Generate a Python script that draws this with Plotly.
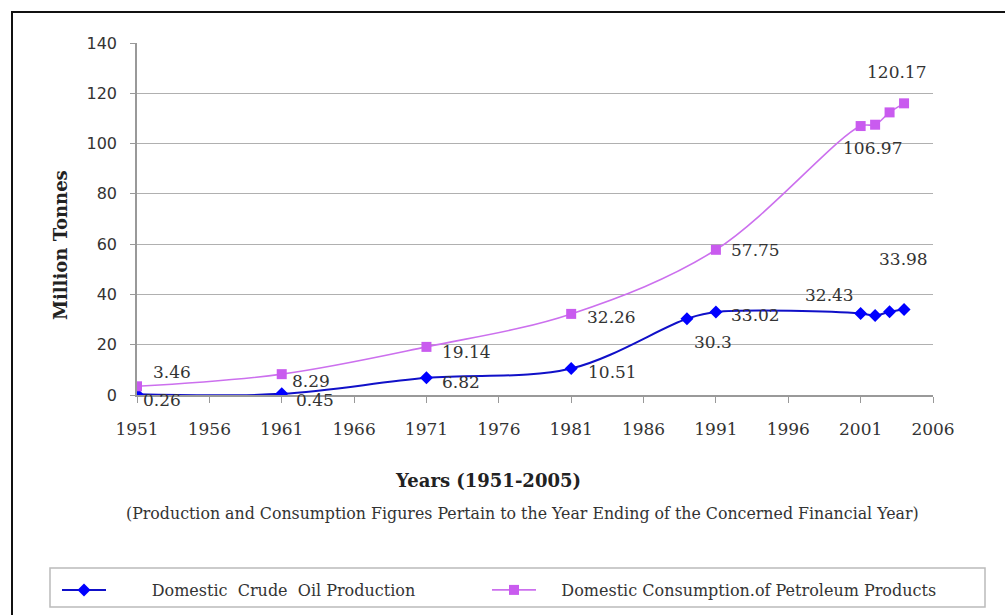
import plotly.graph_objects as go

# ---- data ----
prod_years = [1951, 1961, 1971, 1981, 1989, 1991, 2001, 2002, 2003, 2004]
prod_values = [0.26, 0.45, 6.82, 10.51, 30.3, 33.02, 32.43, 31.6, 33.1, 33.98]
cons_years = [1951, 1961, 1971, 1981, 1991, 2001, 2002, 2003, 2004]
cons_values = [3.46, 8.29, 19.14, 32.26, 57.75, 106.97, 107.5, 112.4, 116.0]

x_ticks = [1951, 1956, 1961, 1966, 1971, 1976, 1981, 1986, 1991, 1996, 2001, 2006]
y_ticks = [0, 20, 40, 60, 80, 100, 120, 140]

series_names = ["Domestic  Crude  Oil Production",
                "Domestic Consumption.of Petroleum Products"]

# data labels: (point index, text)
prod_labels = [(0, "0.26"), (1, "0.45"), (2, "6.82"), (3, "10.51"), (4, "30.3"),
               (5, "33.02"), (6, "32.43"), (9, "33.98")]
cons_labels = [(0, "3.46"), (1, "8.29"), (2, "19.14"), (3, "32.26"), (4, "57.75"),
               (5, "106.97"), (8, "120.17")]

# label offsets (pixels) — styling only
prod_offsets = {0: (4, -6, "left"), 1: (12, -6, "left"), 2: (14, -4, "left"),
                3: (15, -3, "left"), 4: (5, -23, "left"), 5: (13, -3, "left"),
                6: (-5, 18, "right"), 9: (-27, 51, "left")}
cons_offsets = {0: (14, 14, "left"), 1: (8, -7, "left"), 2: (14, -5, "left"),
                3: (14, -3, "left"), 4: (13, 0, "left"), 5: (-20, -22, "left"),
                8: (-39, 31, "left")}

W, H = 1005, 615
TXT = "#333333"
SERIF = "DejaVu Serif"
PAD1 = "\u00a0" * 8
PAD2 = "\u00a0" * 4

fig = go.Figure()
fig.add_trace(go.Scatter(
    x=prod_years, y=prod_values, mode="lines+markers",
    name=PAD1 + series_names[0], legend="legend",
    line=dict(color="#1010C8", width=2, shape="spline", smoothing=1),
    marker=dict(symbol="diamond", size=10, color="#0000FF"),
))
fig.add_trace(go.Scatter(
    x=cons_years, y=cons_values, mode="lines+markers",
    name=PAD2 + series_names[1], legend="legend2",
    line=dict(color="#CC70EE", width=1.6, shape="spline", smoothing=1),
    marker=dict(symbol="square", size=10, color="#C95BEF"),
))

annotations = []
for idx, txt in prod_labels:
    dx, dy, anc = prod_offsets[idx]
    annotations.append(dict(x=prod_years[idx], y=prod_values[idx], text=txt,
                            showarrow=False, xanchor=anc, yanchor="middle",
                            xshift=dx, yshift=dy,
                            font=dict(family=SERIF, size=17, color=TXT)))
for idx, txt in cons_labels:
    dx, dy, anc = cons_offsets[idx]
    annotations.append(dict(x=cons_years[idx], y=cons_values[idx], text=txt,
                            showarrow=False, xanchor=anc, yanchor="middle",
                            xshift=dx, yshift=dy,
                            font=dict(family=SERIF, size=17, color=TXT)))

# titles
annotations.append(dict(xref="paper", yref="paper", x=(60 - 137) / 796, y=(395 - 245) / 352,
                        text="<b>Million Tonnes</b>", textangle=-90, showarrow=False,
                        xanchor="center", yanchor="middle",
                        font=dict(family=SERIF, size=18, color="#222222")))
annotations.append(dict(xref="paper", yref="paper", x=(488 - 137) / 796, y=(395 - 480) / 352,
                        text="<b>Years (1951-2005)</b>", showarrow=False,
                        xanchor="center", yanchor="middle",
                        font=dict(family=SERIF, size=18, color="#222222")))
annotations.append(dict(xref="paper", yref="paper", x=(522 - 137) / 796, y=(395 - 513) / 352,
                        text="(Production and Consumption Figures Pertain to the Year Ending of the Concerned Financial Year)",
                        showarrow=False, xanchor="center", yanchor="middle",
                        font=dict(family=SERIF, size=15.8, color=TXT)))

shapes = [
    # outer frame
    dict(type="rect", xref="paper", yref="paper",
         x0=(12 - 137) / 796, x1=(1030 - 137) / 796,
         y0=(395 - 640) / 352, y1=(395 - 12) / 352,
         line=dict(color="#111111", width=2), layer="below"),
    # legend box
    dict(type="rect", xref="paper", yref="paper",
         x0=(50 - 137) / 796, x1=(985 - 137) / 796,
         y0=(395 - 607) / 352, y1=(395 - 568) / 352,
         line=dict(color="#BBBBBB", width=1.5), layer="below"),
    # hide top gridline at 140
    dict(type="line", xref="paper", yref="y", x0=0, x1=1, y0=140, y1=140,
         line=dict(color="white", width=3), layer="below"),
]

legend_common = dict(orientation="h", xref="container", yref="container",
                     xanchor="left", yanchor="top",
                     bgcolor="rgba(0,0,0,0)", borderwidth=0, itemwidth=44,
                     font=dict(family=SERIF, size=16, color=TXT))

fig.update_layout(
    width=W, height=H,
    margin=dict(l=137, r=72, t=43, b=220),
    paper_bgcolor="white", plot_bgcolor="white",
    showlegend=True,
    legend=dict(legend_common, x=57 / W, y=1 - 573 / H),
    legend2=dict(legend_common, x=487 / W, y=1 - 573 / H),
    annotations=annotations,
    shapes=shapes,
    xaxis=dict(range=[1951, 2006], tickvals=x_ticks, ticktext=[str(v) for v in x_ticks],
               showgrid=False, zeroline=False, showline=True, linecolor="#999999", linewidth=1.5,
               ticks="outside", ticklen=6, tickcolor="#999999", ticklabelstandoff=12,
               tickfont=dict(family=SERIF, size=17, color=TXT)),
    yaxis=dict(range=[0, 140], tickvals=y_ticks, showgrid=True, gridcolor="#B0B0B0", gridwidth=1,
               zeroline=False, showline=True, linecolor="#999999", linewidth=1.5,
               ticks="outside", ticklen=5, tickcolor="#999999", ticklabelstandoff=10,
               tickfont=dict(family="DejaVu Sans", size=16, color=TXT)),
)

fig.write_html("out.html")
